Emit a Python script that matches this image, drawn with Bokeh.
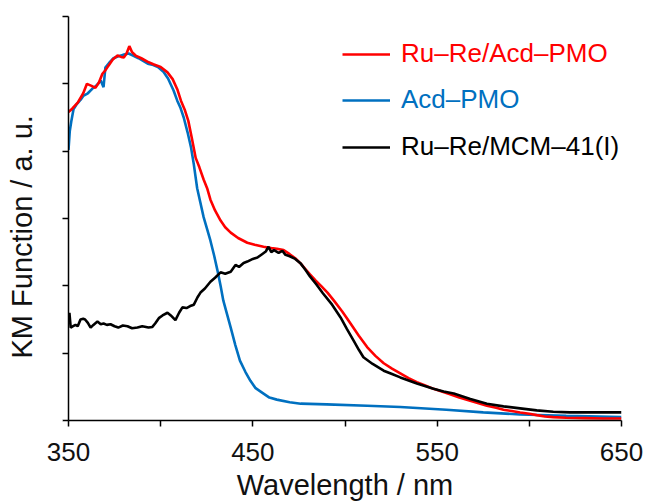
from bokeh.plotting import figure
from bokeh.models import Range1d, FixedTicker, Legend, LegendItem, Title, LinearAxis
from bokeh.embed import file_html
from bokeh.resources import INLINE

# ---- data ----
red_x = [350, 352, 355, 358, 360, 362.5, 364.6, 366.5, 368.4, 370, 371.7, 374, 376.6, 378.5, 380,
         381.5, 383, 384.5, 386.4, 389.5, 392.8, 396, 400, 403.7, 406.5, 409, 411, 413, 415, 417,
         419, 421, 423.3, 425.2, 427, 429.5, 432.5, 435, 438, 442, 447, 451, 455.8, 460, 463,
         466.7, 470, 473, 476, 478.5, 481, 484, 487, 490.5, 494, 498.5, 503, 507.5, 512, 516.5,
         521, 525.5, 530, 534.5, 539, 543.5, 548, 552.5, 557, 562, 567, 572, 577, 582, 586, 590.5,
         595, 600, 604, 608.5, 613, 620, 630, 640, 650]
red_y = [4.58, 4.63, 4.72, 4.86, 5.00, 4.97, 4.94, 5.02, 5.15, 5.20, 5.27, 5.36, 5.42, 5.40, 5.39,
         5.45, 5.56, 5.47, 5.42, 5.38, 5.33, 5.29, 5.25, 5.17, 5.07, 4.92, 4.75, 4.62, 4.45, 4.18,
         3.90, 3.76, 3.58, 3.45, 3.28, 3.12, 2.97, 2.87, 2.79, 2.71, 2.64, 2.61, 2.58, 2.56, 2.55,
         2.53, 2.47, 2.41, 2.33, 2.25, 2.17, 2.08, 2.00, 1.90, 1.78, 1.62, 1.44, 1.26, 1.09, 0.96,
         0.85, 0.77, 0.70, 0.63, 0.57, 0.52, 0.47, 0.43, 0.39, 0.34, 0.30, 0.26, 0.22, 0.19, 0.16, 0.14,
         0.12, 0.10, 0.08, 0.06, 0.05, 0.04, 0.035, 0.03, 0.03]

blue_x = [350, 350.7, 351.5, 352.7, 354.5, 356.5, 358, 360.5, 363, 365, 366.3, 367.5, 369, 370,
          372, 374.4, 377, 379.5, 382.6, 385, 388, 390.5, 393, 396, 398.5, 401.5, 404, 407, 409,
          410.8, 412.5, 414.6, 416.5, 418, 419.8, 421.5, 423.3, 425, 427, 429, 430.8, 432.5, 434,
          436, 438, 440.5, 443, 446, 448.7, 451.5, 455.8, 459, 463, 470, 476, 490, 512, 530, 555,
          575, 595, 620, 650]
blue_y = [4.02, 4.30, 4.44, 4.62, 4.70, 4.76, 4.82, 4.86, 4.93, 4.97, 5.01, 5.05, 4.95, 5.24,
          5.31, 5.38, 5.41, 5.43, 5.45, 5.42, 5.38, 5.34, 5.30, 5.28, 5.25, 5.18, 5.08, 4.90, 4.75,
          4.64, 4.50, 4.28, 4.05, 3.80, 3.45, 3.24, 3.02, 2.86, 2.67, 2.45, 2.23, 2.00, 1.78,
          1.58, 1.38, 1.12, 0.89, 0.72, 0.59, 0.48, 0.40, 0.34, 0.31, 0.27, 0.25, 0.24, 0.22, 0.20, 0.16,
          0.12, 0.09, 0.07, 0.05]

black_x = [350, 350.5, 351.2, 352.5, 353.8, 355, 356.5, 358, 359, 360.5, 362, 363.5, 365.7, 367.5,
           369, 370.8, 372.8, 375, 377, 379.5, 382, 384.5, 387.4, 390, 393.4, 395.5, 397, 399, 401,
           403.7, 405.5, 408, 410, 411.8, 414, 416, 418, 420, 421.6, 424, 427, 429.5, 432.5, 435,
           438, 440.6, 442.5, 445, 447, 450, 452.5, 455, 457, 458.5, 460, 461.5, 464, 466, 467.7,
           470, 473, 476, 478.5, 481, 484.5, 488, 493, 497.6, 501, 504.6, 507.5, 510, 515, 521,
           525.5, 530, 539, 548, 553.5, 559, 568, 577, 586, 595, 604, 613, 622, 630, 640, 650]
black_y = [1.45, 1.60, 1.38, 1.40, 1.42, 1.40, 1.50, 1.51, 1.50, 1.45, 1.38, 1.42, 1.47, 1.43,
           1.44, 1.42, 1.43, 1.40, 1.38, 1.41, 1.40, 1.37, 1.38, 1.40, 1.38, 1.39, 1.44, 1.52, 1.56,
           1.60, 1.56, 1.49, 1.60, 1.68, 1.67, 1.70, 1.72, 1.83, 1.90, 1.96, 2.06, 2.12, 2.20, 2.18,
           2.21, 2.31, 2.28, 2.34, 2.36, 2.40, 2.42, 2.47, 2.51, 2.58, 2.50, 2.53, 2.49, 2.52, 2.46,
           2.44, 2.40, 2.33, 2.24, 2.14, 2.02, 1.89, 1.72, 1.53, 1.36, 1.19, 1.05, 0.94, 0.84, 0.74,
           0.69, 0.64, 0.55, 0.47, 0.43, 0.40, 0.32, 0.25, 0.21, 0.18, 0.15, 0.13, 0.12, 0.12, 0.12, 0.12]

labels = ["Ru\u2013Re/Acd\u2013PMO", "Acd\u2013PMO", "Ru\u2013Re/MCM\u201341(I)"]
colors = ["#FF0000", "#0070C0", "#000000"]

x_label_ticks = [350, 450, 550, 650]
x_plain_ticks = [400, 500, 600]
y_plain_ticks = [0, 1, 2, 3, 4, 5, 6]

FONT = "Liberation Sans"

p = figure(width=648, height=504, output_backend="svg", toolbar_location=None,
           x_range=Range1d(350, 650), y_range=Range1d(0, 6),
           min_border_left=68, min_border_right=27, min_border_top=16, min_border_bottom=84)
p.outline_line_color = None
p.xgrid.grid_line_color = None
p.ygrid.grid_line_color = None
p.background_fill_color = "white"
p.border_fill_color = "white"

r_blue = p.line(blue_x, blue_y, line_color=colors[1], line_width=2.6)
r_red = p.line(red_x, red_y, line_color=colors[0], line_width=2.6)
r_black = p.line(black_x, black_y, line_color=colors[2], line_width=2.6)

# x axis: labelled ticks at 350/450/550/650, unlabelled ticks between
xa = p.xaxis[0]
xa.ticker = FixedTicker(ticks=x_label_ticks, minor_ticks=x_plain_ticks)
for ax in (xa, p.yaxis[0]):
    ax.major_tick_in = 0
    ax.major_tick_out = 6
    ax.minor_tick_in = 0
    ax.minor_tick_out = 6
    ax.major_tick_line_width = 1.5
    ax.minor_tick_line_width = 1.5
    ax.axis_line_width = 1.5
    ax.axis_line_color = "black"
    ax.major_tick_line_color = "black"
    ax.minor_tick_line_color = "black"
xa.major_label_text_font = FONT
xa.major_label_text_font_size = "26px"
xa.major_label_text_color = "#111111"
xa.major_label_standoff = 16
xa.axis_label = "Wavelength / nm"
xa.axis_label_text_font = FONT
xa.axis_label_text_font_size = "29px"
xa.axis_label_text_font_style = "normal"
xa.axis_label_text_color = "#111111"
xa.axis_label_standoff = 5

# y axis: ticks only (drawn as minor ticks), no numbers
ya = p.yaxis[0]
ya.ticker = FixedTicker(ticks=[], minor_ticks=y_plain_ticks)

# blank axis used only as a gap between the y axis and its title
gap = LinearAxis(ticker=FixedTicker(ticks=[], minor_ticks=[0]), axis_line_color=None,
                 major_tick_out=0, major_tick_in=0, minor_tick_in=0, minor_tick_out=25,
                 minor_tick_line_color="white", minor_tick_line_width=1)
p.add_layout(gap, "left")

p.add_layout(Title(text="KM Function / a. u.", align="left", vertical_align="bottom", offset=62,
                   text_font=FONT, text_font_size="29px", text_font_style="normal",
                   text_color="#111111", standoff=0), "left")

# legends: one per series so each label carries its line colour
leg_pos = [(274, 351), (274, 305), (274, 258)]
for r, lab, col, pos in zip([r_red, r_blue, r_black], labels, colors, leg_pos):
    leg = Legend(items=[LegendItem(label=lab, renderers=[r])], location=pos,
                 border_line_color=None, background_fill_alpha=0, padding=0, margin=0,
                 glyph_width=48, glyph_height=20, label_standoff=11, label_height=20,
                 label_text_font=FONT, label_text_font_size="26px", label_text_color=col)
    p.add_layout(leg)

open("out.html", "w").write(file_html(p, INLINE))
